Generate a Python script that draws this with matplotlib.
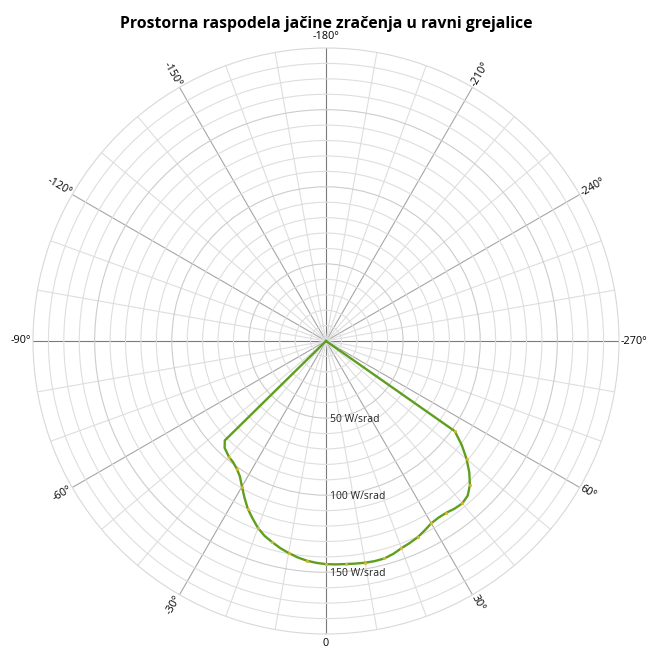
import numpy as np
import matplotlib
matplotlib.use("Agg")
import matplotlib.pyplot as plt

# ---- data (angle in degrees, intensity in W/srad) ----
angles_deg = [-50, -45.5, -43.5, -40, -37.5, -35, -32.5, -30, -27.5, -25, -22.5,
              -20, -17.5, -15, -12.5, -10, -7.5, -5, -2.5, 0, 2.5, 5, 7.5, 10,
              12.5, 15, 17.5, 20, 22.5, 25, 27.5, 30, 32.5, 35, 37.5, 40, 42.5,
              45, 47.5, 50, 52.5, 55, 60]
intensity = [0, 92, 95.5, 98, 99, 101, 104, 109, 114.5, 120, 124.5,
             129, 132.5, 135, 137.5, 139.6, 141.5, 143, 144, 144.7, 145, 145.2, 145.6, 146,
             146.2, 146, 144.8, 143, 141.8, 140.5, 138.5, 136.5, 135.8, 136, 137, 137.5, 136,
             132, 126, 119, 111, 102, 0]

angle_ticks = [0, 30, 60, 90, 120, 150, 180, 210, 240, 270, 300, 330]
angle_labels = ["0", "30°", "60°", "-270°", "-240°", "-210°", "-180°",
                "-150°", "-120°", "-90°", "-60°", "-30°"]
radial_ticks = [50, 100, 150]
radial_labels = ["50 W/srad", "100 W/srad", "150 W/srad"]
r_max = 190

title = "Prostorna raspodela jačine zračenja u ravni grejalice"

plt.rcParams['font.family'] = ['Open Sans', 'DejaVu Sans']

fig = plt.figure(figsize=(6.49, 6.48), dpi=100)
fig.patch.set_facecolor('white')
W, H = 649, 648
cx, cy, R = 326, 341, 293
ax = fig.add_axes([(cx - R) / W, (H - cy - R) / H, 2 * R / W, 2 * R / H],
                  projection='polar')
ax.set_theta_zero_location('S')
ax.set_theta_direction(1)
ax.set_ylim(0, r_max)

# angular grid
ax.set_xticks(np.deg2rad(angle_ticks))
ax.set_xticks(np.deg2rad(np.arange(0, 360, 10)), minor=True)
ax.set_xticklabels([])
ax.set_yticks(radial_ticks)
ax.set_yticks(np.arange(10, r_max, 10), minor=True)
ax.set_yticklabels([])
ax.tick_params(which='both', length=0)
ax.grid(True, which='minor', color='#dedede', linewidth=0.8)
ax.grid(True, which='major', color='#a6a6a6', linewidth=0.8)
for t, gl in zip(angle_ticks, ax.xaxis.get_gridlines()):
    if t % 90 == 0:
        gl.set_color('#7a7a7a')
for gl in ax.yaxis.get_gridlines():
    gl.set_color('#cccccc')
ax.spines['polar'].set_color('#d8d8d8')
ax.spines['polar'].set_linewidth(0.8)

# data curve
th = np.deg2rad(angles_deg)
ax.plot(th, intensity, color='#5f9f1f', linewidth=1.7, zorder=5,
        solid_joinstyle='round')
ax.plot(th[3:-1], intensity[3:-1], linestyle='none', marker='o',
        markersize=2.2, color='#d9b92a', markeredgewidth=0, zorder=6,
        markevery=2)

# angle labels
for t, lab in zip(angle_ticks, angle_labels):
    phi = (-90 + t) % 360  # screen angle (math convention)
    rad = np.deg2rad(t)
    if t == 180:
        ax.text(rad, r_max * 1.02, lab, ha='center', va='bottom', fontsize=7.8,
                rotation=0, clip_on=False)
        continue
    if t == 0:
        ax.text(rad, r_max * 1.015, lab, ha='center', va='top', fontsize=7.8,
                rotation=0, clip_on=False)
        continue
    if 90 < phi < 270:
        rot = phi - 180
        ha = 'right'
    else:
        rot = phi if phi <= 90 else phi - 360
        ha = 'left'
    ax.text(rad, r_max * 1.005, lab, ha=ha, va='center', fontsize=7.8,
            rotation=rot, rotation_mode='anchor', clip_on=False)

# radial labels
for r, lab in zip(radial_ticks, radial_labels):
    ax.annotate(lab, xy=(0, r), xytext=(3, -1), textcoords='offset points',
                ha='left', va='center', fontsize=7.5, color='#222222')

fig.text(cx / W, 1 - 24 / H, title, ha='center', va='center',
         fontsize=11.3, fontweight='bold')

fig.savefig('out.png', dpi=100, facecolor='white')
